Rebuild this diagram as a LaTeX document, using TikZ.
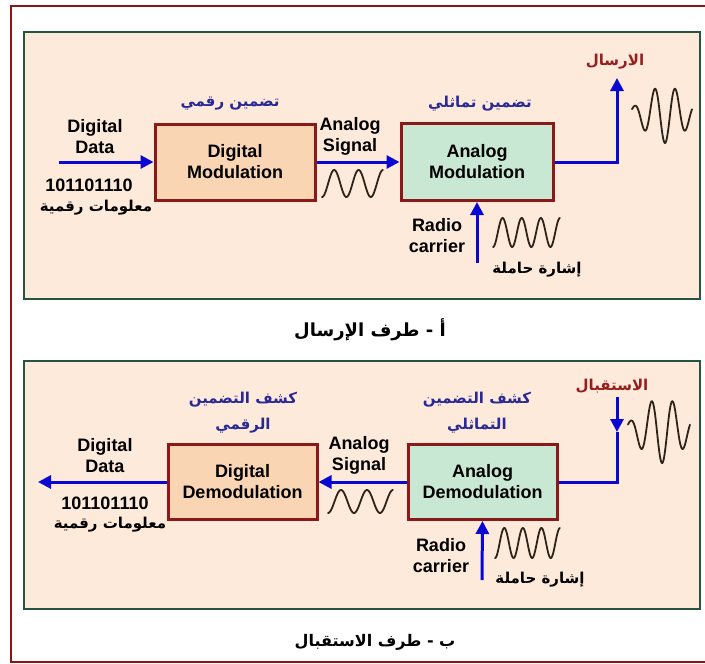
\documentclass[tikz,border=0pt]{standalone}
\usepackage{fontspec}
\setmainfont{Liberation Sans}
\newfontfamily\arabicfont[Script=Arabic]{DejaVu Sans}
\TeXXeTstate=1
\usetikzlibrary{arrows.meta}

\definecolor{outerred}{RGB}{140,22,22}
\definecolor{panelline}{RGB}{38,84,62}
\definecolor{panelfill}{RGB}{253,234,218}
\definecolor{dmfill}{RGB}{250,213,180}
\definecolor{amfill}{RGB}{200,232,212}
\definecolor{boxline}{RGB}{140,25,25}
\definecolor{arrowblue}{RGB}{8,8,210}
\definecolor{labelblue}{RGB}{40,40,150}
\definecolor{labelred}{RGB}{150,30,30}
\definecolor{wavecol}{RGB}{45,35,25}

% sine wave: left x, middle y, width, height, periods
\newcommand{\wave}[5]{%
  \draw[wavepen] plot[domain=0:1,samples=150,smooth] ({#1+#3*\x},{#2+#4/2*cos(#5*360*\x)});}
% modulated burst: left x, middle y, width, height
\newcommand{\modwave}[4]{%
  \draw[wavepen] plot[domain=0:1,samples=160,smooth]
    ({#1+#3*\x},{#2+#4/2*exp(-((\x-0.55)/0.45)*((\x-0.55)/0.45))*cos(360*(\x-0.55)/0.34)});}

\begin{document}
\begin{tikzpicture}[x=1pt,y=-1pt]
% % styles
\tikzset{
  panel/.style={draw=panelline, line width=2.5pt, fill=panelfill},
  block/.style={draw=boxline, line width=3pt, align=center,
    font=\bfseries\fontsize{18}{21}\selectfont},
  eng/.style={align=center, font=\bfseries\fontsize{18}{21}\selectfont},
  arb/.style={align=center, font=\arabicfont\bfseries\fontsize{15}{26}\selectfont},
  sig/.style={draw=arrowblue, line width=3pt},
  sigarrow/.style={sig, -{Triangle[length=13pt,width=13pt]}},
  wavepen/.style={draw=wavecol, line width=1.8pt, line cap=round}
}
\clip (0,0) rectangle (705,664);
\fill[white] (0,0) rectangle (705,664);
\draw[outerred, line width=2pt] (11,6) rectangle (712,662);

% % sending side
\draw[panel] (24,32) rectangle (700,299);
\node[block, fill=dmfill, minimum width=160pt, minimum height=76pt] (DM) at (235,162) {Digital\\Modulation};
\node[block, fill=amfill, minimum width=152pt, minimum height=77pt] (AM) at (477,162) {Analog\\Modulation};
\coordinate (DIin) at (59,162);
\coordinate (TXcorner) at (617,162);
\coordinate (TXout) at (617,78);
\coordinate (CAin) at (477,263);
\draw[sigarrow] (DIin) -- (DM.west);
\draw[sigarrow] (DM.east) -- (AM.west);
\draw[sigarrow] (AM.east) -- (TXcorner) -- (TXout);
\draw[sigarrow] (CAin) -- (AM.south);

\node[eng] (DIlab) at (95,137) {Digital\\Data};
\node[eng] (DIbits) at (89,185) {101101110};
\node[arb] (DIarab) at (96,208) {\beginR معلومات رقمية\endR};
\node[arb, text=labelblue] (DMtop) at (230,104) {\beginR تضمين رقمي\endR};
\node[eng] (ASlab) at (350,136) {Analog\\Signal};
\node[arb, text=labelblue] (AMtop) at (480,104) {\beginR تضمين تماثلي\endR};
\node[arb, text=labelred] (TXlab) at (615,62) {\beginR الارسال\endR};
\node[eng] (RClab) at (437,236) {Radio\\carrier};
\node[arb] (RCarab) at (537,270) {\beginR إشارة حاملة\endR};
\node[arb, font=\arabicfont\bfseries\fontsize{18}{22}\selectfont] (CAPa) at (370,330) {\beginR أ - طرف الإرسال\endR};

\wave{322}{183.5}{61}{27}{2.5}
\wave{493}{232.5}{67}{29}{3.5}
\modwave{632}{114}{60}{58}

% % receiving side
\draw[panel] (24,361) rectangle (700,609);
\node[block, fill=dmfill, minimum width=149pt, minimum height=75pt] (DD) at (242.5,482) {Digital\\Demodulation};
\node[block, fill=amfill, minimum width=149pt, minimum height=75pt] (AD) at (482.5,482) {Analog\\Demodulation};
\coordinate (DOout) at (38,482);
\coordinate (RXin) at (617,397);
\coordinate (RXtip) at (617,432);
\coordinate (CAin2) at (482,580);
\draw[sigarrow] (DD.west) -- (DOout);
\draw[sigarrow] (AD.west) -- (DD.east);
\draw[sigarrow] (RXin) -- (RXtip);
\draw[sig] (RXtip) |- (AD.east);
\draw[sigarrow] (CAin2) -- (AD.south);

\node[eng] (DOlab) at (105,456) {Digital\\Data};
\node[eng] (DObits) at (105,503) {101101110};
\node[arb] (DOarab) at (110,525) {\beginR معلومات رقمية\endR};
\node[arb, text=labelblue] (DDtop) at (243,413) {\beginR كشف التضمين\endR\\\beginR الرقمي\endR};
\node[eng] (ASlab2) at (359,455) {Analog\\Signal};
\node[arb, text=labelblue] (ADtop) at (477,413) {\beginR كشف التضمين\endR\\\beginR التماثلي\endR};
\node[arb, text=labelred] (RXlab) at (612,386) {\beginR الاستقبال\endR};
\node[eng] (RClab2) at (441,556) {Radio\\carrier};
\node[arb] (RCarab2) at (540,580) {\beginR إشارة حاملة\endR};
\node[arb, font=\arabicfont\bfseries\fontsize{16}{20}\selectfont] (CAPb) at (375,642) {\beginR ب - طرف الاستقبال\endR};

\wave{328}{501.5}{65}{23}{2.5}
\wave{495}{543}{65}{30}{3.5}
\modwave{628}{430}{62}{66}
\end{tikzpicture}
\end{document}
